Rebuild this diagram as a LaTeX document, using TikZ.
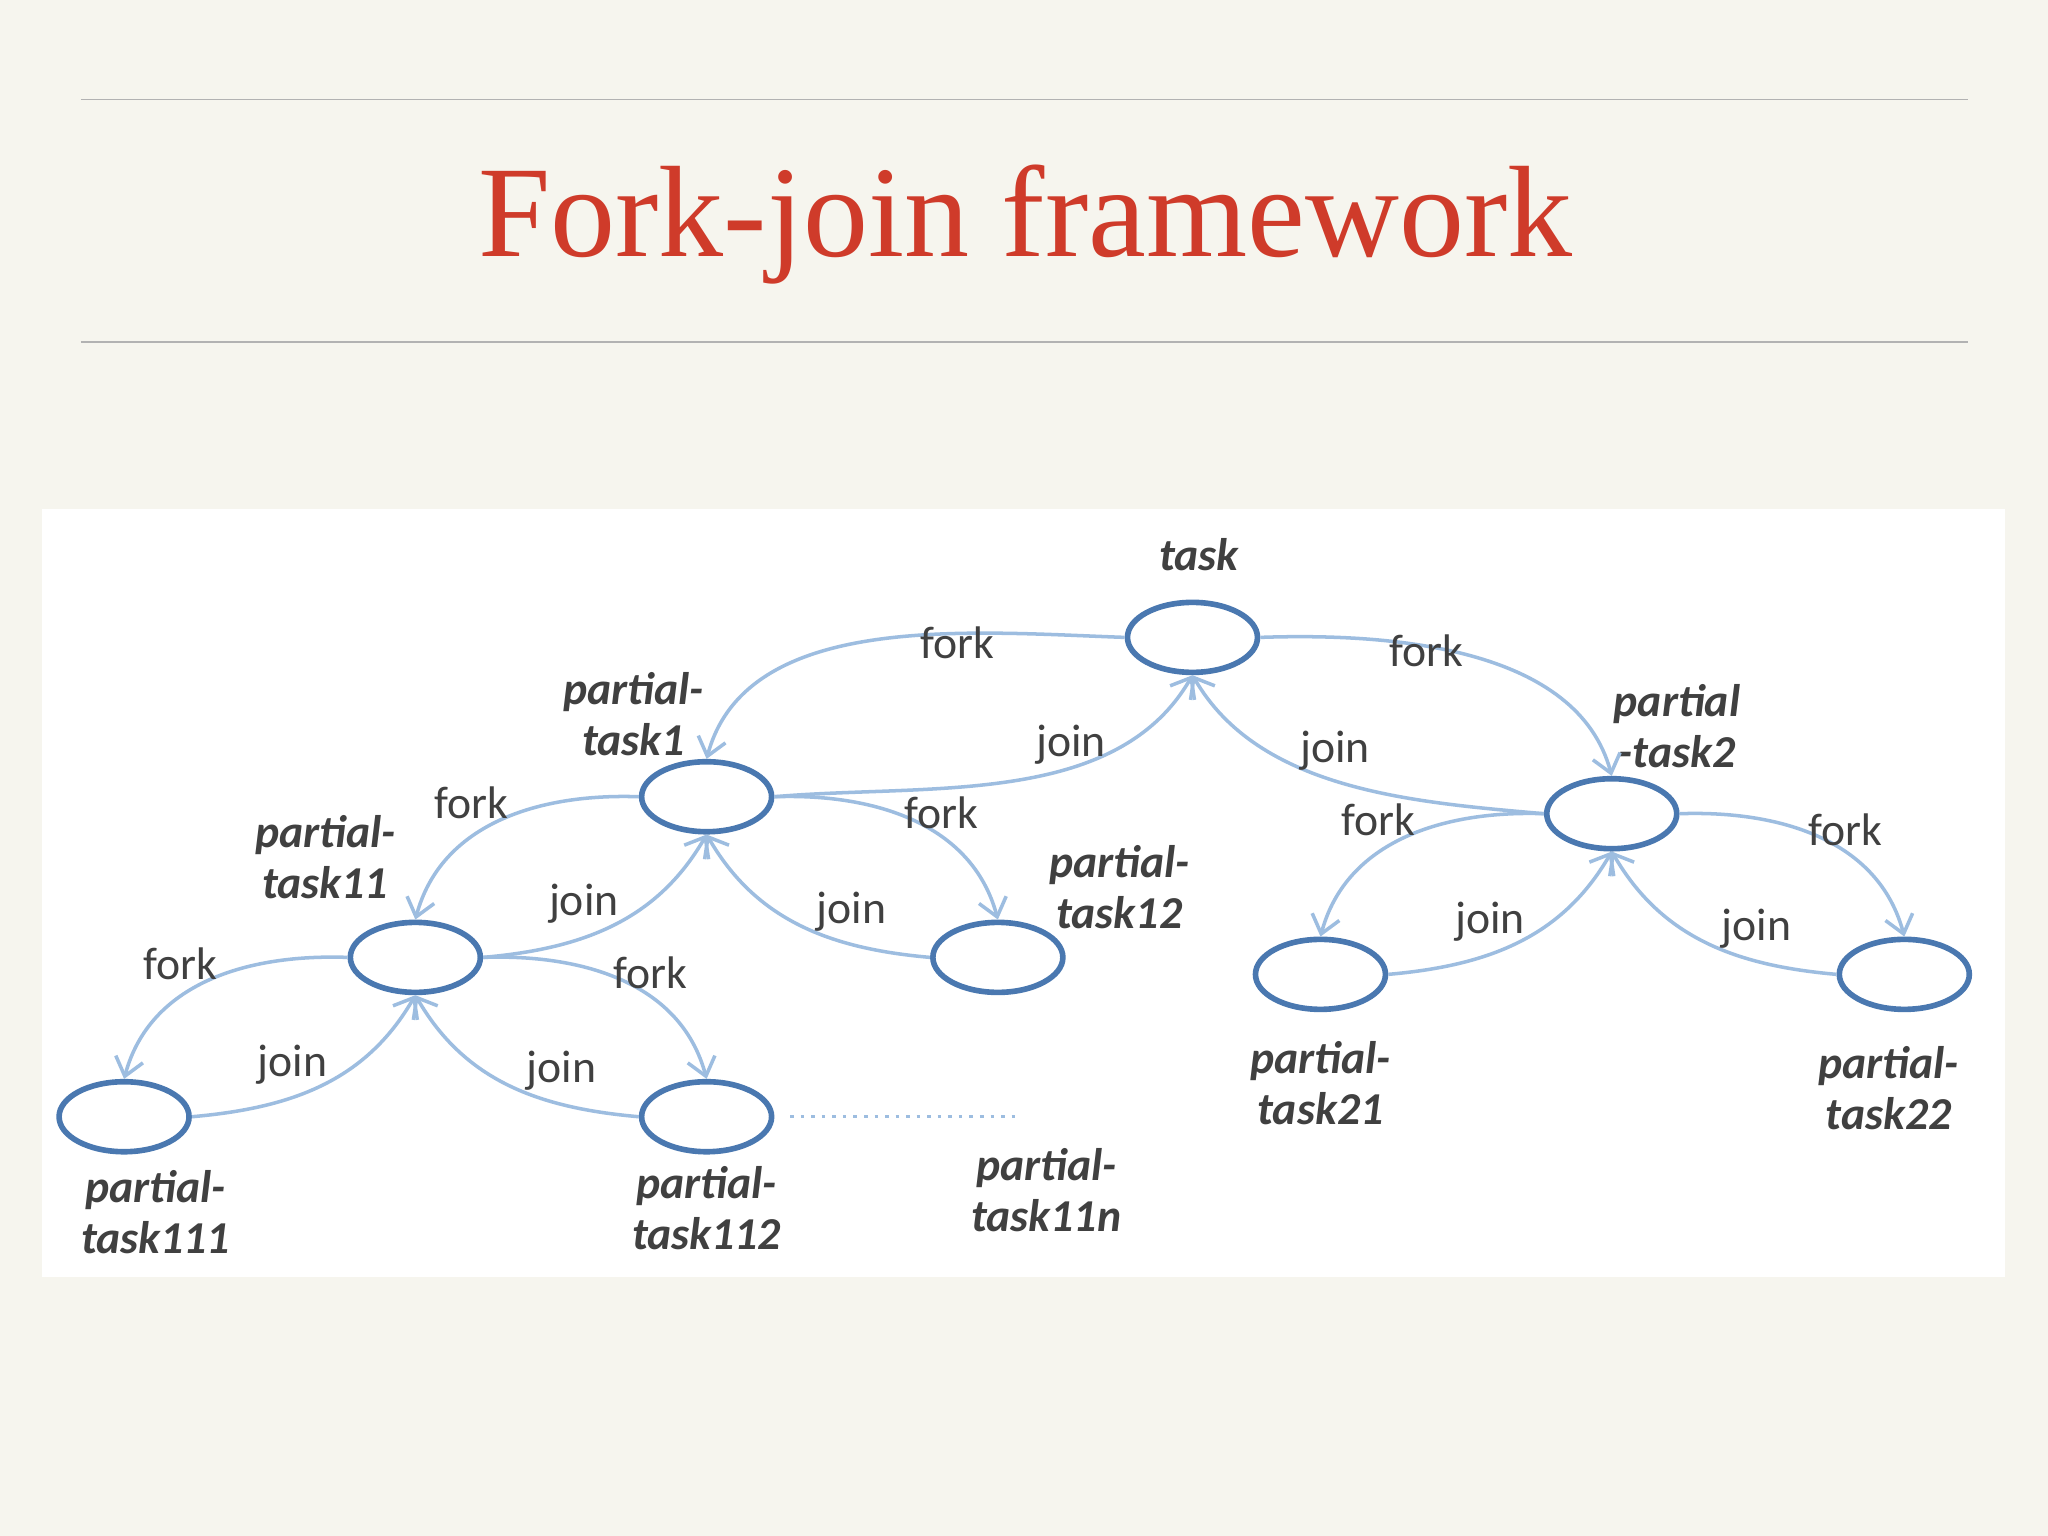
\documentclass[tikz,border=0pt]{standalone}
\usepackage{fontspec}
\setmainfont{Liberation Serif}
\newfontfamily\lblfont{Carlito}
\usetikzlibrary{shapes.geometric,arrows.meta}
\definecolor{cream}{HTML}{F6F5EE}
\definecolor{titlered}{HTML}{CF3B2A}
\definecolor{nodeblue}{HTML}{4A78B0}
\definecolor{edgeblue}{HTML}{9DBDE0}
\definecolor{txtgray}{HTML}{404040}
\tikzset{
  tasknode/.style={draw=nodeblue, line width=1.6pt, ellipse, minimum width=1.3cm, minimum height=0.7cm, fill=white},
  namelbl/.style={font=\lblfont\bfseries\itshape\fontsize{13}{14.5}\selectfont, align=center, text=txtgray},
  edgelbl/.style={font=\lblfont\fontsize{13}{14}\selectfont, text=txtgray},
  edge/.style={draw=edgeblue, line width=1pt, -{Straight Barb[length=5pt,width=8pt]}}
}
\begin{document}
\begin{tikzpicture}[x=0.01306cm, y=-0.01306cm]
\fill[cream] (0,0) rectangle (1568,1176);
\useasboundingbox (0,0) rectangle (1568,1176);
\draw[gray!60] (62,76) -- (1507,76);
\draw[gray!60] (62,262) -- (1507,262);
\node[text=titlered, font=\fontsize{37}{40}\selectfont] (title) at (785,172) {Fork-join framework};
\fill[white] (32,390) rectangle (1535,978);

% tasks
\node[tasknode] (t) at (913,488) {};
\node[tasknode] (t1) at (541,610) {};
\node[tasknode] (t2) at (1234,623) {};
\node[tasknode] (t11) at (318,733) {};
\node[tasknode] (t12) at (764,733) {};
\node[tasknode] (t21) at (1011,746) {};
\node[tasknode] (t22) at (1458,746) {};
\node[tasknode] (t111) at (95,855) {};
\node[tasknode] (t112) at (541,855) {};
\coordinate (dotA) at (605,855);
\coordinate (dotB) at (778,855);

% names
\node[namelbl] (nt) at (918,425) {task};
\node[namelbl] (nt1) at (485,547) {partial-\\task1};
\node[namelbl] (nt11) at (249,656) {partial-\\task11};
\node[namelbl] (nt12) at (857,679) {partial-\\task12};
\node[namelbl] (nt2) at (1284,556) {partial\\-task2};
\node[namelbl] (nt21) at (1011,829) {partial-\\task21};
\node[namelbl] (nt22) at (1446,833) {partial-\\task22};
\node[namelbl] (nt111) at (119,928) {partial-\\task111};
\node[namelbl] (nt112) at (541,925) {partial-\\task112};
\node[namelbl] (nt11n) at (801,911) {partial-\\task11n};

% fork / join
\draw[edge] (t.west) to[out=178, in=75, looseness=0.9] (t1.north);
\draw[edge] (t1.east) to[out=5, in=-120, looseness=0.9] (t.south);
\draw[edge] (t.east) to[out=2, in=105, looseness=0.9] (t2.north);
\draw[edge] (t2.west) to[out=175, in=-60, looseness=0.9] (t.south);

\draw[edge] (t1.west) to[out=178, in=75] (t11.north);
\draw[edge] (t11.east) to[out=5, in=-120] (t1.south);
\draw[edge] (t1.east) to[out=2, in=105] (t12.north);
\draw[edge] (t12.west) to[out=175, in=-60] (t1.south);

\draw[edge] (t11.west) to[out=178, in=75] (t111.north);
\draw[edge] (t111.east) to[out=5, in=-120] (t11.south);
\draw[edge] (t11.east) to[out=2, in=105] (t112.north);
\draw[edge] (t112.west) to[out=175, in=-60] (t11.south);

\draw[edge] (t2.west) to[out=178, in=75] (t21.north);
\draw[edge] (t21.east) to[out=5, in=-120] (t2.south);
\draw[edge] (t2.east) to[out=2, in=105] (t22.north);
\draw[edge] (t22.west) to[out=175, in=-60] (t2.south);

\draw[edgeblue, line width=1pt, dotted] (dotA) -- (dotB);

% edge labels
\node[edgelbl] (f1) at (733,492) {fork};
\node[edgelbl] (j1) at (820,570) {join};
\node[edgelbl] (f2) at (1092,498) {fork};
\node[edgelbl] (j2) at (1022,575) {join};
\node[edgelbl] (f11) at (361,615) {fork};
\node[edgelbl] (j11) at (447,692) {join};
\node[edgelbl] (f12) at (721,622) {fork};
\node[edgelbl] (j12) at (652,698) {join};
\node[edgelbl] (f111) at (138,738) {fork};
\node[edgelbl] (j111) at (224,815) {join};
\node[edgelbl] (f112) at (498,745) {fork};
\node[edgelbl] (j112) at (430,820) {join};
\node[edgelbl] (f21) at (1055,628) {fork};
\node[edgelbl] (j21) at (1141,706) {join};
\node[edgelbl] (f22) at (1413,635) {fork};
\node[edgelbl] (j22) at (1345,711) {join};
\end{tikzpicture}
\end{document}
